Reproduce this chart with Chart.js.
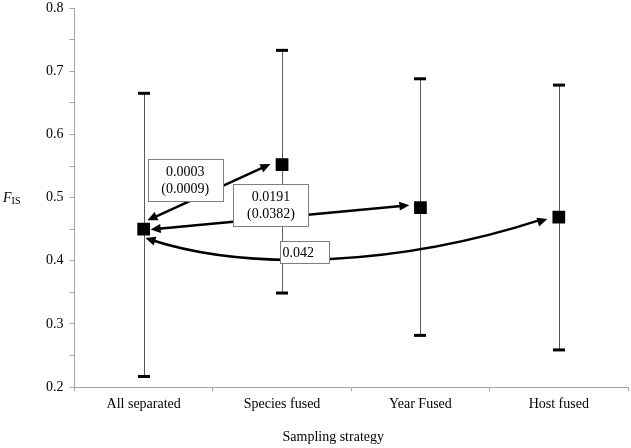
<!DOCTYPE html>
<html><head><meta charset="utf-8">
<script src="https://cdn.jsdelivr.net/npm/chart.js@4.4.0/dist/chart.umd.min.js"></script>
<style>html,body{margin:0;padding:0;background:#fff}</style>
</head><body>
<canvas id="c" width="631" height="448"></canvas>
<script>
// ---- data ----
const categories = ['All separated', 'Species fused', 'Year Fused', 'Host fused'];
const fisMean  = [0.450, 0.552, 0.484, 0.469];
const fisUpper = [0.665, 0.733, 0.688, 0.678];
const fisLower = [0.217, 0.349, 0.282, 0.259];
const yMin = 0.2, yMax = 0.8, yMajorStep = 0.1, yMinorStep = 0.05;
const comparisonLabels = [['0.0003', '(0.0009)'], ['0.0191', '(0.0382)'], ['0.042']];
const xAxisTitle = 'Sampling strategy';

// ---- annotation geometry (data coordinates: category index, FIS value) ----
const arrowLines = [
  {from: [0.027, 0.464], to: [0.916, 0.553]},
  {from: [0.05, 0.4496], to: [1.92, 0.488]}
];
const arrowCurve = {p0: [0.013, 0.436], c1: [0.773, 0.382], c2: [1.856, 0.393], p3: [2.917, 0.466]};
const labelBoxes = [
  {at: [0.30, 0.5285], w: 75, h: 42, align: 'center'},
  {at: [0.92, 0.488], w: 75, h: 42, align: 'center'},
  {at: [1.16, 0.4137], w: 49, h: 22, align: 'left'}
];

const SERIF = '"Liberation Serif", "Times New Roman", serif';
const FS = 14;

function head(ctx, tip, from, len, hw) {
  const a = Math.atan2(tip[1] - from[1], tip[0] - from[0]);
  ctx.beginPath();
  ctx.moveTo(tip[0], tip[1]);
  ctx.lineTo(tip[0] - len * Math.cos(a) + hw * Math.sin(a), tip[1] - len * Math.sin(a) - hw * Math.cos(a));
  ctx.lineTo(tip[0] - len * Math.cos(a) - hw * Math.sin(a), tip[1] - len * Math.sin(a) + hw * Math.cos(a));
  ctx.closePath();
  ctx.fill();
}

const overlay = {
  id: 'overlay',
  beforeDatasetsDraw(chart) {
    const {ctx, scales: {x, y}} = chart;
    ctx.save();
    fisMean.forEach((m, i) => {
      const px = Math.round(x.getPixelForValue(i)) + 0.5;
      const yt = y.getPixelForValue(fisUpper[i]);
      const yb = y.getPixelForValue(fisLower[i]);
      ctx.strokeStyle = '#595959';
      ctx.lineWidth = 1;
      ctx.beginPath(); ctx.moveTo(px, yt); ctx.lineTo(px, yb); ctx.stroke();
      ctx.fillStyle = '#000';
      ctx.fillRect(px - 6.5, yt - 1.5, 12, 3);
      ctx.fillRect(px - 6.5, yb - 1.5, 12, 3);
    });
    ctx.restore();
  },
  afterDatasetsDraw(chart) {
    const {ctx, scales: {x, y}} = chart;
    const P = (p) => [x.getPixelForValue(p[0]), y.getPixelForValue(p[1])];
    ctx.save();
    ctx.strokeStyle = '#000'; ctx.fillStyle = '#000'; ctx.lineWidth = 2.5;
    const L = 10, HW = 4.5;
    arrowLines.forEach(a => {
      const A = P(a.from), B = P(a.to);
      const d = Math.hypot(B[0] - A[0], B[1] - A[1]);
      const ux = (B[0] - A[0]) / d, uy = (B[1] - A[1]) / d;
      ctx.beginPath();
      ctx.moveTo(A[0] + ux * (L - 2), A[1] + uy * (L - 2));
      ctx.lineTo(B[0] - ux * (L - 2), B[1] - uy * (L - 2));
      ctx.stroke();
      head(ctx, A, B, L, HW);
      head(ctx, B, A, L, HW);
    });
    const p0 = P(arrowCurve.p0), c1 = P(arrowCurve.c1), c2 = P(arrowCurve.c2), p3 = P(arrowCurve.p3);
    ctx.beginPath();
    ctx.moveTo(p0[0] + 6, p0[1] + 2);
    ctx.bezierCurveTo(c1[0], c1[1], c2[0], c2[1], p3[0] - 6, p3[1] + 0.5);
    ctx.stroke();
    head(ctx, p0, c1, L, HW);
    head(ctx, p3, c2, L, HW);

    // label boxes
    ctx.lineWidth = 1;
    labelBoxes.forEach((b, i) => {
      const c = P(b.at);
      const left = Math.round(c[0] - b.w / 2) + 0.5, top = Math.round(c[1] - b.h / 2) + 0.5;
      ctx.fillStyle = '#fff';
      ctx.fillRect(left, top, b.w, b.h);
      ctx.strokeStyle = '#7f7f7f';
      ctx.strokeRect(left, top, b.w, b.h);
      ctx.fillStyle = '#000';
      ctx.font = FS + 'px ' + SERIF;
      ctx.textBaseline = 'middle';
      const lines = comparisonLabels[i];
      const lh = 17;
      lines.forEach((t, k) => {
        const ty = c[1] + (k - (lines.length - 1) / 2) * lh;
        if (b.align === 'left') { ctx.textAlign = 'left'; ctx.fillText(t, left + 2, ty + 1); }
        else { ctx.textAlign = 'center'; ctx.fillText(t, c[0], ty + 1); }
      });
    });

    // axis titles
    ctx.fillStyle = '#000';
    ctx.textBaseline = 'alphabetic';
    ctx.textAlign = 'center';
    ctx.font = FS + 'px ' + SERIF;
    ctx.fillText(xAxisTitle, (x.left + x.right) / 2 - 18, 441);
    ctx.textAlign = 'left';
    ctx.font = 'italic 14px ' + SERIF;
    const yc = (y.top + y.bottom) / 2 + 4;
    ctx.fillText('F', 3, yc);
    const fw = ctx.measureText('F').width;
    ctx.font = '10px ' + SERIF;
    ctx.fillText('IS', 3 + fw, yc + 2);
    ctx.restore();
  }
};

new Chart(document.getElementById('c'), {
  type: 'line',
  data: {
    labels: categories,
    datasets: [{
      data: fisMean,
      showLine: false,
      pointStyle: 'rect',
      pointRadius: 9,
      pointHoverRadius: 9,
      backgroundColor: '#000',
      borderColor: '#000',
      borderWidth: 0
    }]
  },
  options: {
    responsive: false,
    animation: false,
    devicePixelRatio: 1,
    events: [],
    layout: {autoPadding: false, padding: {left: 40, right: 3, top: 0, bottom: 30}},
    plugins: {legend: {display: false}, tooltip: {enabled: false}},
    scales: {
      x: {
        type: 'category',
        offset: true,
        afterFit: (s) => { s.paddingRight = 0; s.paddingLeft = 0; },
        grid: {offset: true, drawOnChartArea: false, tickLength: 4, color: '#a6a6a6'},
        border: {color: '#a6a6a6', width: 1},
        ticks: {color: '#000', font: {family: SERIF, size: FS}, padding: 5, maxRotation: 0}
      },
      y: {
        min: yMin, max: yMax,
        afterFit: (s) => { s.paddingTop = 8; s.paddingBottom = 0; },
        grid: {drawOnChartArea: false, tickLength: 5, color: '#a6a6a6'},
        border: {color: '#a6a6a6', width: 1},
        ticks: {
          stepSize: yMinorStep,
          color: '#000',
          font: {family: SERIF, size: FS},
          padding: 6,
          autoSkip: false,
          callback: (v) => {
            const k = v / yMajorStep;
            return Math.abs(k - Math.round(k)) < 1e-6 ? v.toFixed(1) : '';
          }
        }
      }
    }
  },
  plugins: [overlay]
});
</script>
</body></html>
